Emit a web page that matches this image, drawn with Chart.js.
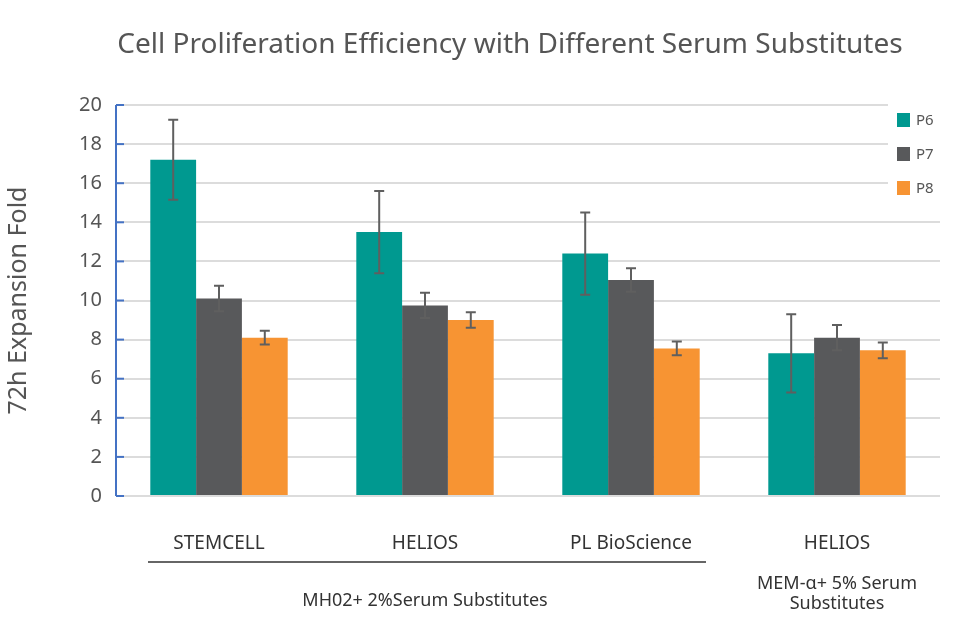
<!DOCTYPE html>
<html><head><meta charset="utf-8">
<script src="https://cdn.jsdelivr.net/npm/chart.js@4"></script>
<style>html,body{margin:0;padding:0;background:#fff}#w{width:979px;height:631px}</style>
</head><body><div id="w"><canvas id="c"></canvas></div>
<script>
const categories = ["STEMCELL", "HELIOS", "PL BioScience", "HELIOS"];
const seriesNames = ["P6", "P7", "P8"];
const p6 = [17.2, 13.5, 12.4, 7.3];
const p7 = [10.1, 9.75, 11.05, 8.1];
const p8 = [8.1, 9.0, 7.55, 7.45];
const p6Err = [2.05, 2.1, 2.1, 2.0];
const p7Err = [0.65, 0.65, 0.6, 0.65];
const p8Err = [0.35, 0.4, 0.35, 0.4];
const colors = ["#009990", "#58595B", "#F79433"];
const yTicks = [0, 2, 4, 6, 8, 10, 12, 14, 16, 18, 20];
const font = "'Noto Sans', sans-serif";

const extras = {
  id: 'extras',
  afterDatasetsDraw(chart) {
    const ctx = chart.ctx, y = chart.scales.y, x = chart.scales.x, a = chart.chartArea;
    // error bars
    const errs = [p6Err, p7Err, p8Err];
    chart.data.datasets.forEach((ds, di) => {
      chart.getDatasetMeta(di).data.forEach((bar, i) => {
        const v = ds.data[i], e = errs[di][i];
        const yt = y.getPixelForValue(v + e), yb = y.getPixelForValue(v - e);
        ctx.save(); ctx.strokeStyle = '#5f5f5f'; ctx.lineWidth = 2;
        ctx.beginPath();
        ctx.moveTo(bar.x, yt); ctx.lineTo(bar.x, yb);
        ctx.moveTo(bar.x - 5, yt); ctx.lineTo(bar.x + 5, yt);
        ctx.moveTo(bar.x - 5, yb); ctx.lineTo(bar.x + 5, yb);
        ctx.stroke(); ctx.restore();
      });
    });
    // y axis tick marks inside
    ctx.save(); ctx.strokeStyle = '#4472C4'; ctx.lineWidth = 2;
    yTicks.forEach(t => { const py = y.getPixelForValue(t); ctx.beginPath(); ctx.moveTo(a.left, py); ctx.lineTo(a.left + 8, py); ctx.stroke(); });
    ctx.beginPath(); ctx.moveTo(a.left, a.top); ctx.lineTo(a.left, a.bottom); ctx.stroke();
    ctx.restore();
    // legend
    ctx.save();
    ctx.fillStyle = '#fff'; ctx.fillRect(888, 100, 91, 100);
    seriesNames.forEach((n, i) => {
      const ly = 120 + i * 34;
      ctx.fillStyle = colors[i]; ctx.fillRect(897, ly - 7, 13, 14);
      ctx.fillStyle = '#555'; ctx.font = '15px ' + font; ctx.textBaseline = 'middle'; ctx.textAlign = 'left';
      ctx.fillText(n, 916, ly + 1);
    });
    // category labels
    ctx.fillStyle = '#333'; ctx.font = '19px ' + font; ctx.textAlign = 'center'; ctx.textBaseline = 'middle';
    categories.forEach((c, i) => ctx.fillText(c, x.getPixelForValue(i), 544));
    ctx.strokeStyle = '#333'; ctx.lineWidth = 1.5;
    ctx.beginPath(); ctx.moveTo(148, 562); ctx.lineTo(706, 562); ctx.stroke();
    ctx.font = '18px ' + font;
    ctx.fillText('MH02+ 2%Serum Substitutes', x.getPixelForValue(1), 601);
    ctx.fillText('MEM-α+ 5% Serum', x.getPixelForValue(3), 584);
    ctx.fillText('Substitutes', x.getPixelForValue(3), 604);
    // title
    ctx.fillStyle = '#555'; ctx.font = '28px ' + font;
    ctx.fillText('Cell Proliferation Efficiency with Different Serum Substitutes', 510, 45);
    ctx.restore();
  }
};

new Chart(document.getElementById('c'), {
  type: 'bar',
  data: {
    labels: categories,
    datasets: [
      { label: seriesNames[0], data: p6, backgroundColor: colors[0] },
      { label: seriesNames[1], data: p7, backgroundColor: colors[1] },
      { label: seriesNames[2], data: p8, backgroundColor: colors[2] }
    ]
  },
  options: {
    responsive: true, maintainAspectRatio: false, animation: false,
    layout: { padding: { top: 105, right: 39, bottom: 127, left: 0 } },
    datasets: { bar: { categoryPercentage: 0.667, barPercentage: 1 } },
    plugins: { legend: { display: false }, tooltip: { enabled: false } },
    scales: {
      x: { grid: { display: false }, ticks: { display: false }, border: { display: false } },
      y: {
        min: 0, max: 20,
        afterBuildTicks: s => { s.ticks = yTicks.map(v => ({ value: v })); },
        afterFit: s => { s.width = 116; },
        grid: { color: '#dcdcdc', lineWidth: 2, drawTicks: false },
        border: { display: false },
        ticks: { color: '#555', font: { size: 20, family: font }, padding: 14 },
        title: { display: true, text: '72h Expansion Fold', color: '#555', font: { size: 25, family: font }, padding: 4 }
      }
    }
  },
  plugins: [extras]
});
</script></body></html>
